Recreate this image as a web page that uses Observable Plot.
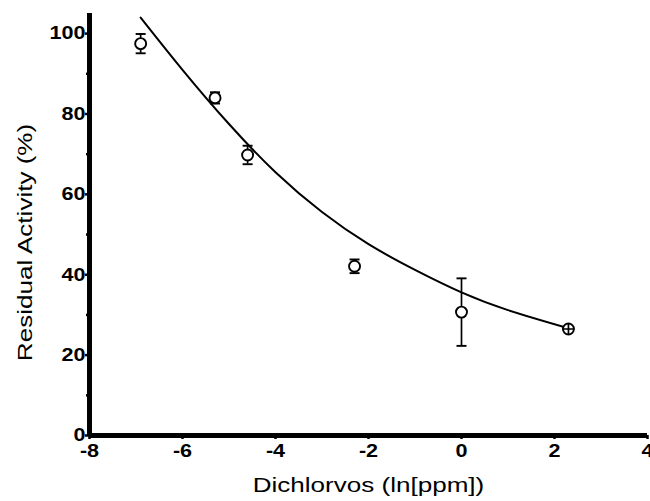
<!DOCTYPE html>
<html><head><meta charset="utf-8">
<script src="https://cdn.jsdelivr.net/npm/d3@7"></script>
<script src="https://cdn.jsdelivr.net/npm/@observablehq/plot@0.6"></script>
<style>
body{margin:0;background:#fff}
#chart svg{font-family:"Liberation Sans",Arial,Helvetica,sans-serif;background:#fff}
</style>
</head><body><div id="chart"></div>
<script>
// Data
const doseLn   = [-6.9, -5.3, -4.6, -2.3, 0, 2.3];
const activity = [97.5, 84.0, 69.8, 42.1, 30.7, 26.5];
const sem      = [2.4, 1.4, 2.3, 1.7, 8.4, 0];
// fitted curve
const curveX = [-6.9, -6, -5, -4, -3, -2, -1, 0, 1, 2.3];
const curveY = [104, 91, 77.5, 65.5, 55.6, 47.6, 41.2, 35.6, 31.2, 26.7];
const xTicks = [-8, -6, -4, -2, 0, 2, 4];
const xMinor = [-7, -5, -3, -1, 1, 3];
const yTicks = [0, 20, 40, 60, 80, 100];
const yMinor = [10, 30, 50, 70, 90];
const xTitle = "Dichlorvos (ln[ppm])";
const yTitle = "Residual Activity (%)";

const pts = doseLn.map((x, i) => ({x, y: activity[i], lo: activity[i] - sem[i], hi: activity[i] + sem[i], e: sem[i]}));
const fit = curveX.map((x, i) => ({x, y: curveY[i]}));
const caps = pts.flatMap(d => d.e > 0 ? [{x: d.x, y: d.lo}, {x: d.x, y: d.hi}] : []);
const crossed = pts.filter(d => d.e === 0);

const capSymbol = {draw(ctx) { ctx.moveTo(-5, 0); ctx.lineTo(5, 0); }};
const crossSymbol = {draw(ctx) { ctx.moveTo(-5.5, 0); ctx.lineTo(5.5, 0); ctx.moveTo(0, -5.5); ctx.lineTo(0, 5.5); }};

const fmt = d => String(d);

const chart = Plot.plot({
  width: 650, height: 501,
  marginLeft: 89, marginRight: 3, marginTop: 13, marginBottom: 66,
  x: {domain: [-8, 4]},
  y: {domain: [0, 105]},
  style: {fontFamily: '"Liberation Sans",Arial,sans-serif', color: "black", background: "white"},
  marks: [
    Plot.axisY(yTicks, {tickSize: 4, tickPadding: 0, tickFormat: fmt, fontSize: 18, fontWeight: "bold", strokeWidth: 2.5, label: null}),
    Plot.axisY(yMinor, {tickSize: 3, tickFormat: () => "", strokeWidth: 2.5, label: null}),
    Plot.axisX(xTicks, {tickSize: 4, tickPadding: 5, tickFormat: fmt, fontSize: 18, fontWeight: "bold", strokeWidth: 2.5, label: null}),
    Plot.axisX(xMinor, {tickSize: 3, tickFormat: () => "", strokeWidth: 2.5, label: null}),
    Plot.ruleX([-8], {y1: 0, y2: 105, stroke: "black", strokeWidth: 5}),
    Plot.ruleY([0], {x1: -8, x2: 4, stroke: "black", strokeWidth: 5}),
    Plot.text([xTitle], {text: d => d, frameAnchor: "bottom", textAnchor: "middle", dy: 50, fontSize: 21, lineAnchor: "middle", fill: "black"}),
    Plot.text([yTitle], {text: d => d, frameAnchor: "left", textAnchor: "middle", dx: -64, dy: 18, rotate: -90, fontSize: 21, lineAnchor: "middle", fill: "black"}),
    Plot.line(fit, {x: "x", y: "y", curve: "natural", stroke: "black", strokeWidth: 2}),
    Plot.ruleX(pts, {x: "x", y1: "lo", y2: "hi", stroke: "black", strokeWidth: 1.7}),
    Plot.dot(pts, {x: "x", y: "y", r: 5.5, fill: "white", stroke: "black", strokeWidth: 1.9}),
    Plot.dot(caps, {x: "x", y: "y", symbol: capSymbol, stroke: "black", strokeWidth: 1.9}),
    Plot.dot(crossed, {x: "x", y: "y", symbol: crossSymbol, stroke: "black", strokeWidth: 1.7})
  ]
});
document.getElementById("chart").appendChild(chart);

// widen glyphs horizontally to match the reference's stretched lettering
const titles = new Set([xTitle, yTitle]);
chart.querySelectorAll("text").forEach(t => {
  const s = t.textContent;
  if (!s) return;
  const len = t.getComputedTextLength();
  const f = titles.has(s) ? 1.24 : 1.2;
  t.setAttribute("textLength", (len * f).toFixed(1));
  t.setAttribute("lengthAdjust", "spacingAndGlyphs");
});
</script>
</body></html>
